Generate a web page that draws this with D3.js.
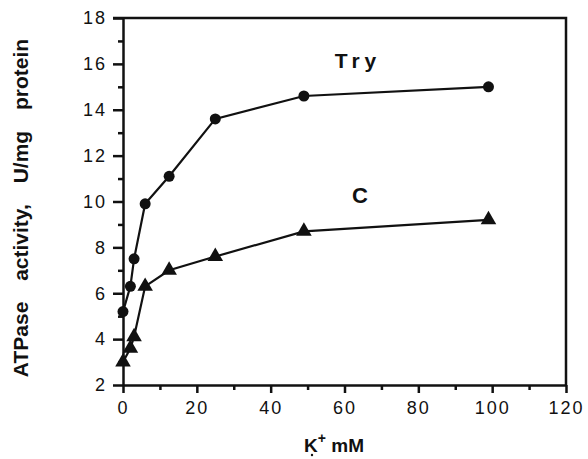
<!DOCTYPE html>
<html>
<head>
<meta charset="utf-8">
<script src="https://cdn.jsdelivr.net/npm/d3@7"></script>
<style>
  body { margin: 0; background: #fff; }
  text { font-family: "Liberation Sans", Arial, Helvetica, sans-serif; font-weight: bold; fill: #111; }
</style>
</head>
<body>
<div id="viz-container"></div>
<script>
const width = 588, height = 459;

// Données
const kConc = [0, 2, 3, 6, 12.5, 25, 49, 99];
const tryValues = [5.2, 6.3, 7.5, 9.9, 11.1, 13.6, 14.6, 15.0];
const cValues = [3.0, 3.6, 4.1, 6.3, 7.0, 7.6, 8.7, 9.2];
const xTicks = [0, 20, 40, 60, 80, 100, 120];
const xMinorTicks = [10, 30, 50, 70, 90, 110];
const yTicks = [2, 4, 6, 8, 10, 12, 14, 16, 18];
const yMinorTicks = [3, 5, 7, 9, 11, 13, 15, 17];

const svg = d3.select("#viz-container")
  .append("svg")
  .attr("width", width)
  .attr("height", height);

// Échelles
const x = d3.scaleLinear().domain([0, 120]).range([123, 566]);
const y = d3.scaleLinear().domain([2, 18]).range([385, 18]);

// Axes principaux
svg.append("g")
  .attr("transform", `translate(0,${y(2)})`)
  .call(d3.axisBottom(x).tickValues(xTicks).tickSize(8).tickSizeOuter(0).tickPadding(8));
svg.append("g")
  .attr("transform", `translate(${x(0)},0)`)
  .call(d3.axisLeft(y).tickValues(yTicks).tickSize(10).tickSizeOuter(0).tickPadding(6));

// Graduations secondaires
svg.append("g")
  .attr("transform", `translate(0,${y(2)})`)
  .call(d3.axisBottom(x).tickValues(xMinorTicks).tickSize(5).tickFormat(""))
  .select(".domain").remove();
svg.append("g")
  .attr("transform", `translate(${x(0)},0)`)
  .call(d3.axisLeft(y).tickValues(yMinorTicks).tickSize(5).tickFormat(""))
  .select(".domain").remove();

svg.selectAll(".domain, .tick line")
  .attr("stroke", "#111")
  .attr("stroke-width", 2.5);

svg.selectAll(".tick text")
  .style("font-size", "18px")
  .style("font-weight", "normal")
  .style("letter-spacing", "2px")
  .attr("fill", "#111");

// Cadre haut et droite
svg.append("path")
  .attr("d", `M${x(0) - 10},${y(18)}H${x(120)}V${y(2)}`)
  .attr("fill", "none")
  .attr("stroke", "#111")
  .attr("stroke-width", 2.5);

// Courbes
const line = d3.line()
  .x((d, i) => x(kConc[i]))
  .y(d => y(d));

[tryValues, cValues].forEach(serie => {
  svg.append("path")
    .datum(serie)
    .attr("d", line)
    .attr("fill", "none")
    .attr("stroke", "#111")
    .attr("stroke-width", 2.2);
});

// Points
svg.selectAll("circle.try")
  .data(tryValues)
  .join("circle")
  .attr("class", "try")
  .attr("cx", (d, i) => x(kConc[i]))
  .attr("cy", d => y(d))
  .attr("r", 5.5)
  .attr("fill", "#111");

svg.selectAll("path.c")
  .data(cValues)
  .join("path")
  .attr("class", "c")
  .attr("d", d3.symbol().type(d3.symbolTriangle).size(105))
  .attr("transform", (d, i) => `translate(${x(kConc[i])},${y(d)})`)
  .attr("fill", "#111");

// Étiquettes des séries
svg.append("text")
  .attr("x", 358)
  .attr("y", 68)
  .attr("text-anchor", "middle")
  .style("font-size", "21px")
  .style("letter-spacing", "5px")
  .text("Try");

svg.append("text")
  .attr("x", 360)
  .attr("y", 203)
  .attr("text-anchor", "middle")
  .style("font-size", "22px")
  .text("C");

// Titres des axes
const xLabel = svg.append("text")
  .attr("x", 334)
  .attr("y", 452)
  .attr("text-anchor", "middle")
  .style("font-size", "19px");
xLabel.append("tspan").text("K");
xLabel.append("tspan").attr("dy", -9).style("font-size", "14px").text("+");
xLabel.append("tspan").attr("dy", 9).text(" mM");

// Petit point sous le « + » (indice illisible sur l'original)
svg.append("circle")
  .attr("cx", 312)
  .attr("cy", 455)
  .attr("r", 1.2)
  .attr("fill", "#111");

svg.append("text")
  .attr("transform", `translate(28,${208}) rotate(-90)`)
  .attr("text-anchor", "middle")
  .style("font-size", "21px")
  .style("word-spacing", "15px")
  .text("ATPase activity, U/mg protein");
</script>
</body>
</html>
